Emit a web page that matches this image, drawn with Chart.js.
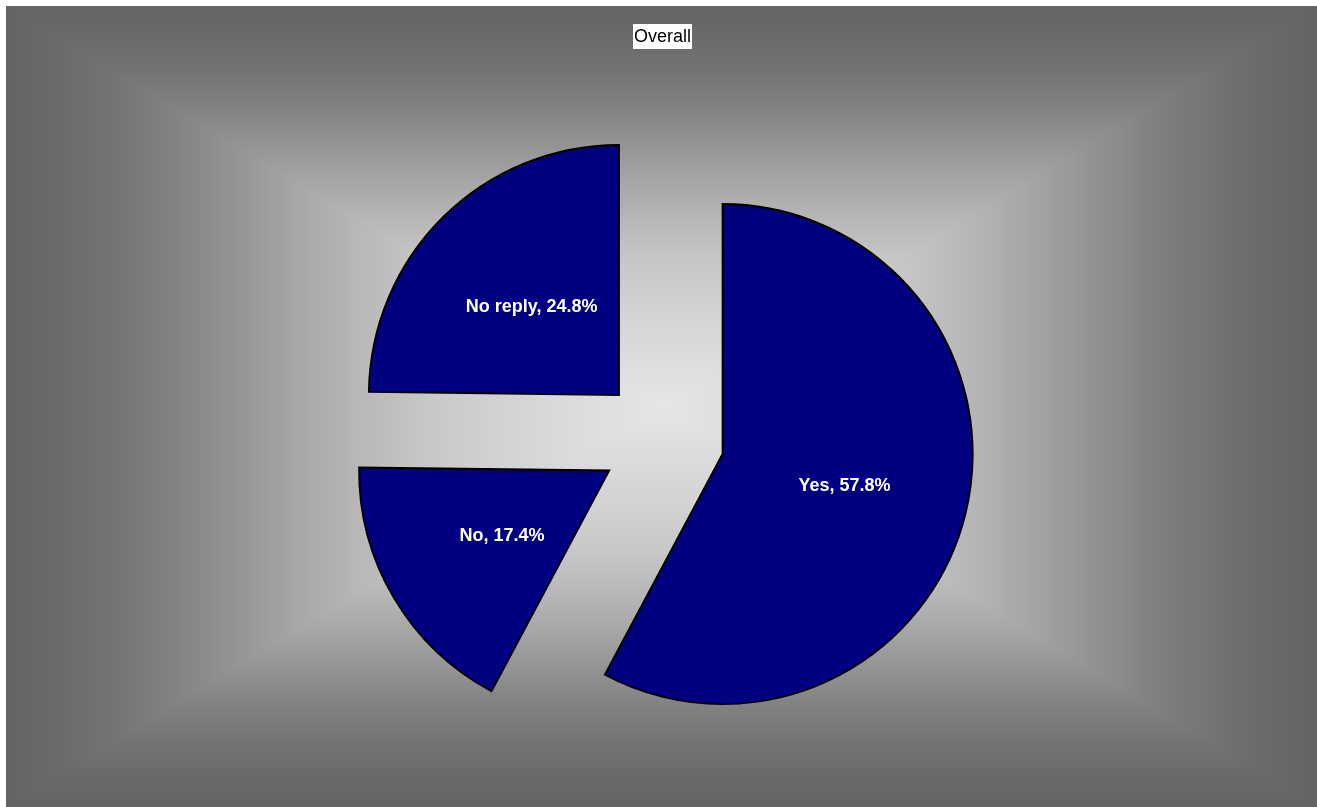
<!DOCTYPE html>
<html>
<head>
<meta charset="utf-8">
<title>Overall</title>
<script src="https://cdn.jsdelivr.net/npm/chart.js@4/dist/chart.umd.min.js"></script>
<style>
  html, body { margin: 0; padding: 0; background: #fff; }
  canvas { display: block; }
</style>
</head>
<body>
<canvas id="pie" width="1317" height="807"></canvas>
<script>
// ---- data ----
const categories = ['Yes', 'No', 'No reply'];
const shares = [57.8, 17.4, 24.8];
const chartTitle = 'Overall';

// ---- look ----
const FONT_FAMILY = '"Liberation Sans", Arial, Helvetica, sans-serif';
const SLICE_COLOR = '#000080';
const RADIUS = 250;          // pie radius, px
const EXPLODE = 62;          // distance each slice is pulled out from the centre, px
const TITLE_SIZE = 18;
const TITLE_PAD_TOP = 26;
const FRAME = { left: 6, top: 6 };   // white margin around the backdrop

// grey level of the rectangular backdrop gradient, by distance from its centre (0) to its edge (1)
const shadeStops = [
  [0.00, 230], [0.25, 210], [0.37, 198], [0.46, 184], [0.55, 168],
  [0.65, 148], [0.75, 129], [0.85, 114], [0.93, 105], [1.00, 100]
];

function shadeAt(t) {
  if (t <= 0) return shadeStops[0][1];
  for (let i = 1; i < shadeStops.length; i++) {
    const [t1, v1] = shadeStops[i];
    const [t0, v0] = shadeStops[i - 1];
    if (t <= t1) return v0 + (v1 - v0) * (t - t0) / (t1 - t0);
  }
  return shadeStops[shadeStops.length - 1][1];
}

// Backdrop: rectangular grey gradient plus the white box behind the title
const backdrop = {
  id: 'backdrop',
  beforeDraw(chart) {
    const ctx = chart.ctx;
    const W = chart.width, H = chart.height;
    ctx.save();
    ctx.fillStyle = '#ffffff';
    ctx.fillRect(0, 0, W, H);

    const w = W - FRAME.left, h = H - FRAME.top;
    const img = ctx.createImageData(w, h);
    const px = img.data;
    const cx = w / 2, cy = h / 2;
    const lut = new Uint8ClampedArray(1001);
    for (let i = 0; i <= 1000; i++) lut[i] = Math.round(shadeAt(i / 1000));
    let k = 0;
    for (let y = 0; y < h; y++) {
      const ty = Math.abs(y + 0.5 - cy) / cy;
      for (let x = 0; x < w; x++) {
        const tx = Math.abs(x + 0.5 - cx) / cx;
        const v = lut[Math.min(1000, Math.round(Math.max(tx, ty) * 1000))];
        px[k++] = v; px[k++] = v; px[k++] = v; px[k++] = 255;
      }
    }
    ctx.putImageData(img, FRAME.left, FRAME.top);

    // white plate under the title text
    const tb = chart.titleBlock;
    if (tb) {
      ctx.font = TITLE_SIZE + 'px ' + FONT_FAMILY;
      const tw = ctx.measureText(chartTitle).width;
      const tX = (tb.left + tb.right) / 2;
      const tY = tb.top + TITLE_PAD_TOP + TITLE_SIZE * 1.2 / 2;
      ctx.fillStyle = '#ffffff';
      ctx.fillRect(Math.round(tX - tw / 2 - 1), Math.round(tY - 12.5), Math.round(tw + 2), 25);
    }
    ctx.restore();
  }
};

// Exploded pie: move each slice's own centre outward along its middle angle,
// so all slices keep the same radius and straight radial edges.
const explodeSlices = {
  id: 'explodeSlices',
  afterDatasetUpdate(chart, args) {
    args.meta.data.forEach(arc => {
      const mid = (arc.startAngle + arc.endAngle) / 2;
      arc.x += Math.cos(mid) * EXPLODE;
      arc.y += Math.sin(mid) * EXPLODE;
    });
  }
};

// "Category, value%" written inside each slice
const sliceLabels = {
  id: 'sliceLabels',
  afterDatasetsDraw(chart) {
    const ctx = chart.ctx;
    const meta = chart.getDatasetMeta(0);
    ctx.save();
    ctx.font = 'bold 18px ' + FONT_FAMILY;
    ctx.fillStyle = '#ffffff';
    ctx.textAlign = 'center';
    ctx.textBaseline = 'middle';
    meta.data.forEach((arc, i) => {
      const mid = (arc.startAngle + arc.endAngle) / 2;
      const d = RADIUS * 0.5;
      const x = arc.x + Math.cos(mid) * d + 0.5;
      const y = arc.y + Math.sin(mid) * d + 1.5;
      ctx.fillText(categories[i] + ', ' + shares[i].toFixed(1) + '%', x, y);
    });
    ctx.restore();
  }
};

new Chart(document.getElementById('pie'), {
  type: 'pie',
  data: {
    labels: categories,
    datasets: [{
      data: shares,
      backgroundColor: SLICE_COLOR,
      borderColor: '#000000',
      borderWidth: 2,
      borderJoinStyle: 'miter',
      offset: 0,
      hoverOffset: 0
    }]
  },
  options: {
    responsive: false,
    animation: false,
    events: [],
    radius: RADIUS,
    layout: { padding: { left: 8, right: 0, top: 0, bottom: 0 } },
    plugins: {
      legend: { display: false },
      tooltip: { enabled: false },
      title: {
        display: true,
        text: chartTitle,
        color: '#000000',
        font: { family: FONT_FAMILY, size: TITLE_SIZE, weight: 'normal', lineHeight: 1.2 },
        padding: { top: TITLE_PAD_TOP, bottom: 23.4 }
      }
    }
  },
  plugins: [backdrop, explodeSlices, sliceLabels]
});
</script>
</body>
</html>
